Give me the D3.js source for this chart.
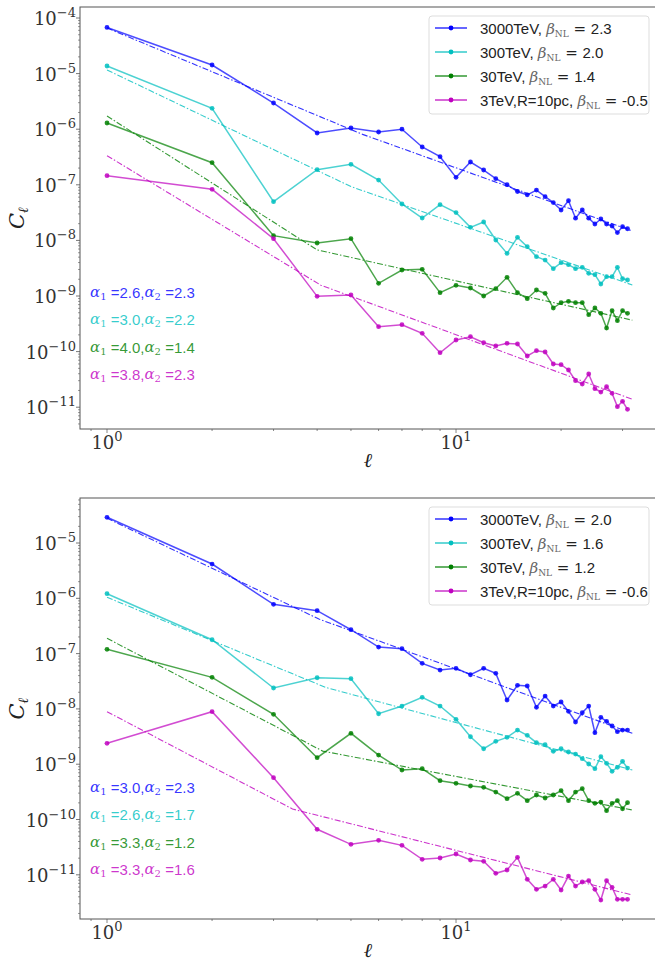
<!DOCTYPE html>
<html>
<head>
<meta charset="utf-8">
<script src="https://cdn.jsdelivr.net/npm/d3@7"></script>
<style>
body { margin: 0; background: #fff; }
</style>
</head>
<body>
<svg id="chart" width="655" height="963"></svg>
<script>
// multipole index
var ells = [1,2,3,4,5,6,7,8,9,10,11,12,13,14,15,16,17,18,19,20,21,22,23,24,25,26,27,28,29,30,31];

// log10(C_l), upper panel
var top3000 = [-4.17,-4.845,-5.529,-6.068,-5.978,-6.05,-6.00,-6.32,-6.494,-6.866,-6.59,-6.734,-6.89,-6.998,-7.12,-7.18,-7.094,-7.214,-7.32,-7.453,-7.286,-7.60,-7.453,-7.60,-7.705,-7.615,-7.705,-7.741,-7.86,-7.753,-7.79];
var top300 = [-4.863,-5.624,-7.304,-6.728,-6.632,-6.914,-7.345,-7.597,-7.357,-7.50,-7.765,-7.669,-7.993,-8.233,-7.945,-8.113,-8.293,-8.353,-8.509,-8.401,-8.437,-8.509,-8.484,-8.592,-8.617,-8.784,-8.653,-8.653,-8.484,-8.689,-8.712];
var top30 = [-5.888,-6.602,-7.915,-8.047,-7.969,-8.772,-8.532,-8.52,-8.94,-8.808,-8.856,-9.0,-8.869,-8.664,-8.94,-9.048,-8.892,-8.952,-9.216,-9.12,-9.096,-9.12,-9.12,-9.336,-9.216,-9.311,-9.576,-9.264,-9.444,-9.264,-9.311];
var top3 = [-6.836,-7.081,-7.969,-9.006,-8.982,-9.552,-9.516,-9.671,-10.02,-9.791,-9.732,-9.84,-9.899,-9.851,-9.863,-10.079,-9.983,-10.007,-10.223,-10.235,-10.331,-10.523,-10.583,-10.403,-10.667,-10.727,-10.631,-10.751,-10.99,-10.894,-11.038];

// lower panel
var bot3000 = [-4.535,-5.38,-6.109,-6.224,-6.568,-6.881,-6.911,-7.176,-7.297,-7.266,-7.382,-7.266,-7.357,-7.839,-7.573,-7.586,-7.971,-7.767,-7.948,-7.875,-8.044,-8.237,-8.069,-7.948,-8.43,-8.152,-8.225,-8.309,-8.412,-8.382,-8.382];
var bot300 = [-5.917,-6.749,-7.622,-7.436,-7.454,-8.087,-7.948,-7.79,-7.948,-8.188,-8.503,-8.72,-8.586,-8.514,-8.382,-8.478,-8.611,-8.647,-8.767,-8.72,-8.779,-8.816,-8.9,-8.996,-9.081,-8.864,-8.984,-9.128,-9.056,-8.948,-9.069];
var bot30 = [-6.922,-7.429,-8.098,-8.882,-8.441,-8.834,-9.105,-9.081,-9.298,-9.346,-9.394,-9.418,-9.503,-9.624,-9.527,-9.66,-9.557,-9.611,-9.557,-9.479,-9.66,-9.503,-9.443,-9.66,-9.707,-9.684,-9.841,-9.707,-9.66,-9.805,-9.696];
var bot3 = [-8.622,-8.05,-9.244,-10.177,-10.449,-10.376,-10.467,-10.72,-10.696,-10.624,-10.732,-10.756,-10.973,-10.913,-10.684,-11.081,-11.262,-11.203,-11.081,-11.275,-11.022,-11.203,-11.13,-11.106,-11.262,-11.456,-11.106,-11.227,-11.443,-11.443,-11.443];

// broken power-law fits: [l, log10 C] at start, break, end
var fitTop3000 = [[1,-4.18],[5.4,-6.093],[32,-7.831]];
var fitTop300 = [[1,-4.935],[5.0,-7.032],[32,-8.802]];
var fitTop30 = [[1,-5.763],[4.0,-8.171],[32,-9.435]];
var fitTop3 = [[1,-6.476],[4.1,-8.806],[32,-10.858]];
var fitBot3000 = [[1,-4.553],[4.06,-6.378],[32,-8.441]];
var fitBot300 = [[1,-5.982],[4.24,-7.613],[32,-9.105]];
var fitBot30 = [[1,-6.723],[4.15,-8.763],[32,-9.828]];
var fitBot3 = [[1,-8.05],[3.4,-9.81],[32,-11.365]];

var names = ['3000TeV', '300TeV', '30TeV', '3TeV,R=10pc'];
var topBeta = ['2.3', '2.0', '1.4', '-0.5'];
var botBeta = ['2.0', '1.6', '1.2', '-0.6'];
var topA1 = ['2.6', '3.0', '4.0', '3.8'];
var topA2 = ['2.3', '2.2', '1.4', '2.3'];
var botA1 = ['3.0', '2.6', '3.3', '3.3'];
var botA2 = ['2.3', '1.7', '1.2', '1.6'];

var colors = ['#0000ff', '#00bfbf', '#008000', '#bf00bf'];

var svg = d3.select('#chart');
svg.append('rect').attr('width', 655).attr('height', 963).attr('fill', '#fff');

var serif = '"DejaVu Serif", "Liberation Serif", serif';
var sans = '"Liberation Sans", Arial, sans-serif';
var left = 80, right = 656;

function drawPanel(p) {
    var g = svg.append('g');
    var x = d3.scaleLog().domain([Math.pow(10, -0.0774), Math.pow(10, 1.573)]).range([left, right]);
    var y = d3.scaleLog().domain([Math.pow(10, p.yLo), Math.pow(10, p.yHi)]).range([p.bottom, p.top]);

    // y ticks
    var yMajor = [], yMinor = [];
    for (var k = Math.floor(p.yLo); k <= Math.ceil(p.yHi); k++) {
        for (var m = 1; m < 10; m++) {
            var v = m * Math.pow(10, k);
            if (Math.log10(v) < p.yLo || Math.log10(v) > p.yHi) continue;
            if (m == 1) yMajor.push(k); else yMinor.push(v);
        }
    }
    g.selectAll('.ymin').data(yMinor).enter().append('line')
        .attr('x1', left - 2).attr('x2', left)
        .attr('y1', function(d) { return y(d); }).attr('y2', function(d) { return y(d); })
        .attr('stroke', '#555').attr('stroke-width', 0.6);
    g.selectAll('.ymaj').data(yMajor).enter().append('line')
        .attr('x1', left - 4).attr('x2', left)
        .attr('y1', function(d) { return y(Math.pow(10, d)); }).attr('y2', function(d) { return y(Math.pow(10, d)); })
        .attr('stroke', '#555').attr('stroke-width', 0.8);
    var yl = g.selectAll('.ylab').data(yMajor).enter().append('text')
        .attr('x', left - 4)
        .attr('y', function(d) { return y(Math.pow(10, d)) + 7; })
        .attr('text-anchor', 'end')
        .attr('font-family', serif).attr('font-size', 18).attr('fill', '#333');
    yl.append('tspan').text('10');
    yl.append('tspan').attr('dy', -8).attr('font-size', 13).text(function(d) { return '\u2212' + (-d); });

    // x ticks
    var xt = x.ticks();
    g.selectAll('.xt').data(xt).enter().append('line')
        .attr('x1', function(d) { return x(d); }).attr('x2', function(d) { return x(d); })
        .attr('y1', p.bottom).attr('y2', function(d) { return p.bottom + ([1, 10].indexOf(d) >= 0 ? 4 : 2); })
        .attr('stroke', '#555').attr('stroke-width', 0.7);
    var xl = g.selectAll('.xlab').data([0, 1]).enter().append('text')
        .attr('x', function(d) { return x(Math.pow(10, d)); })
        .attr('y', p.bottom + 20)
        .attr('text-anchor', 'middle')
        .attr('font-family', serif).attr('font-size', 18).attr('fill', '#333');
    xl.append('tspan').text('10');
    xl.append('tspan').attr('dy', -8).attr('font-size', 13).text(function(d) { return d; });

    // axis labels
    var cl = g.append('text')
        .attr('transform', 'translate(24,' + ((p.top + p.bottom) / 2) + ') rotate(-90)')
        .attr('text-anchor', 'middle')
        .attr('font-family', serif).attr('font-style', 'italic').attr('font-size', 21).attr('fill', '#222');
    cl.append('tspan').text('C');
    cl.append('tspan').attr('dy', 4).attr('font-size', 14).text('\u2113');
    g.append('text')
        .attr('x', (left + right) / 2).attr('y', p.bottom + 38)
        .attr('text-anchor', 'middle')
        .attr('font-family', serif).attr('font-style', 'italic').attr('font-size', 20).attr('fill', '#222')
        .text('\u2113');

    // fits
    var fitLine = d3.line()
        .x(function(d) { return x(d[0]); })
        .y(function(d) { return y(Math.pow(10, d[1])); });
    p.fits.forEach(function(f, i) {
        g.append('path').attr('d', fitLine(f))
            .attr('fill', 'none').attr('stroke', colors[i]).attr('stroke-width', 1.1)
            .attr('stroke-opacity', 0.8).attr('stroke-dasharray', '6,2,1.5,2');
    });

    // data
    var dataLine = d3.line()
        .x(function(d, j) { return x(ells[j]); })
        .y(function(d) { return y(Math.pow(10, d)); });
    p.series.forEach(function(s, i) {
        g.append('path').attr('d', dataLine(s))
            .attr('fill', 'none').attr('stroke', colors[i]).attr('stroke-width', 1.5)
            .attr('stroke-opacity', 0.7);
        g.selectAll('.pt' + i).data(s).enter().append('circle')
            .attr('cx', function(d, j) { return x(ells[j]); })
            .attr('cy', function(d) { return y(Math.pow(10, d)); })
            .attr('r', 2.4).attr('fill', colors[i]).attr('fill-opacity', 0.85);
    });

    // frame
    g.append('rect')
        .attr('x', left).attr('y', p.top)
        .attr('width', right - left).attr('height', p.bottom - p.top)
        .attr('fill', 'none').attr('stroke', '#555').attr('stroke-width', 1);

    // legend
    g.append('rect')
        .attr('x', 429).attr('y', p.legTop).attr('width', 220).attr('height', 98)
        .attr('rx', 3).attr('fill', '#fff').attr('fill-opacity', 0.85)
        .attr('stroke', '#ddd').attr('stroke-width', 1);
    names.forEach(function(n, i) {
        var cy = p.legTop + 12 + i * 24;
        g.append('line').attr('x1', 435).attr('x2', 467).attr('y1', cy).attr('y2', cy)
            .attr('stroke', colors[i]).attr('stroke-width', 1.5).attr('stroke-opacity', 0.8);
        g.append('circle').attr('cx', 451).attr('cy', cy).attr('r', 2.4).attr('fill', colors[i]);
        var t = g.append('text').attr('x', 480).attr('y', cy + 5.5)
            .attr('font-family', sans).attr('font-size', 15).attr('fill', '#222');
        t.append('tspan').text(n + ', ');
        t.append('tspan').attr('font-family', serif).attr('font-style', 'italic').attr('fill', '#666').text('\u03b2');
        t.append('tspan').attr('font-family', serif).attr('font-size', 9).attr('dy', 3).attr('fill', '#666').text('NL');
        t.append('tspan').attr('font-family', serif).attr('dy', -3).text(' = ');
        t.append('tspan').text(p.beta[i]);
    });

    // slope annotations
    p.a1.forEach(function(a, i) {
        var t = g.append('text').attr('x', 90).attr('y', p.annTop + i * 27.3)
            .attr('dominant-baseline', 'central')
            .attr('font-family', sans).attr('font-size', 15)
            .attr('fill', colors[i]).attr('fill-opacity', 0.8);
        t.append('tspan').attr('font-family', serif).attr('font-style', 'italic').text('\u03b1');
        t.append('tspan').attr('font-family', serif).attr('font-size', 10).attr('dy', 4).text('1');
        t.append('tspan').attr('dy', -4).text(' =' + a + ',');
        t.append('tspan').attr('font-family', serif).attr('font-style', 'italic').text('\u03b1');
        t.append('tspan').attr('font-family', serif).attr('font-size', 10).attr('dy', 4).text('2');
        t.append('tspan').attr('dy', -4).text(' =' + p.a2[i]);
    });
}

drawPanel({
    top: 7, bottom: 429, yLo: -11.392, yHi: -3.802,
    series: [top3000, top300, top30, top3],
    fits: [fitTop3000, fitTop300, fitTop30, fitTop3],
    beta: topBeta, a1: topA1, a2: topA2,
    legTop: 16, annTop: 292
});

drawPanel({
    top: 498, bottom: 919, yLo: -11.799, yHi: -4.186,
    series: [bot3000, bot300, bot30, bot3],
    fits: [fitBot3000, fitBot300, fitBot30, fitBot3],
    beta: botBeta, a1: botA1, a2: botA2,
    legTop: 507, annTop: 787
});
</script>
</body>
</html>
